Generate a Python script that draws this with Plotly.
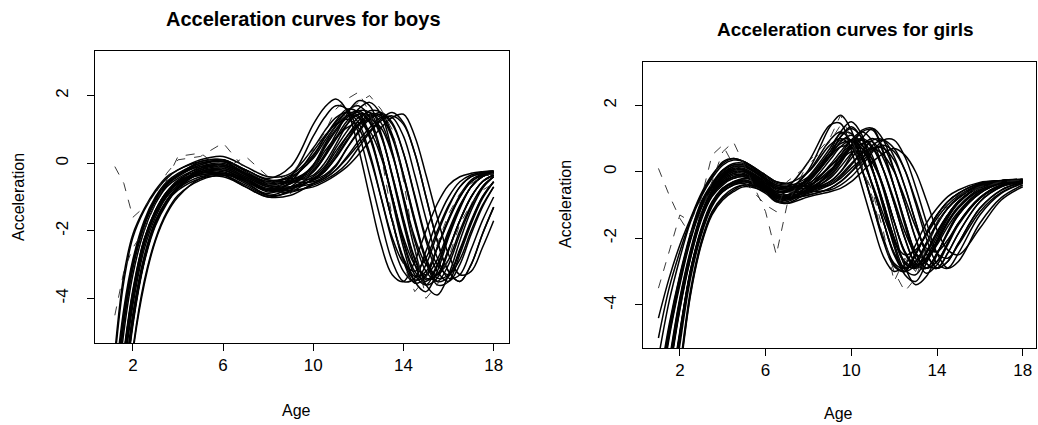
import plotly.graph_objects as go

# ---------------- data ----------------
boy_ages = [1.2, 1.6, 2.0, 2.5, 3.0, 3.5, 4.0, 5.0, 6.0, 7.0, 8.0, 9.0,
            10.0, 10.5, 11.0, 11.5, 12.0, 12.5, 13.0, 13.5, 14.0, 14.5,
            15.0, 15.5, 16.0, 16.5, 17.0, 17.5, 18.0]

boy_01 = [-7.0, -4.6, -3.0, -1.8, -1.1, -0.6, -0.35, 0.05, 0.1, -0.2, -0.45, -0.1, 1.15, 1.65, 1.9, 1.55, 0.45, -1.0, -2.4, -3.3, -3.5, -2.9, -2.0, -1.2, -0.65, -0.4, -0.3, -0.25, -0.22]
boy_02 = [-8.5, -5.8, -3.9, -2.3, -1.45, -0.9, -0.55, -0.3, -0.3, -0.55, -0.8, -0.4, 0.8, 1.35, 1.7, 1.6, 0.9, -0.35, -1.7, -2.9, -3.5, -3.4, -2.6, -1.7, -1.0, -0.55, -0.35, -0.27, -0.23]
boy_03 = [-5.6, -3.3, -2.1, -1.35, -0.8, -0.4, -0.2, 0.1, 0.2, -0.1, -0.4, -0.3, 0.45, 0.95, 1.35, 1.5, 1.2, 0.3, -1.0, -2.3, -3.2, -3.5, -3.0, -2.1, -1.3, -0.7, -0.4, -0.3, -0.25]
boy_04 = [-8.3, -5.7, -3.8, -2.25, -1.4, -0.85, -0.55, -0.35, -0.3, -0.6, -0.9, -0.55, 0.35, 0.8, 1.15, 1.3, 1.05, 0.2, -1.0, -2.2, -2.95, -3.2, -2.8, -2.0, -1.25, -0.7, -0.4, -0.3, -0.25]
boy_05 = [-10.0, -7.0, -4.7, -2.9, -1.8, -1.15, -0.75, -0.2, -0.05, -0.35, -0.65, -0.45, 0.2, 0.75, 1.25, 1.6, 1.5, 0.85, -0.35, -1.7, -2.85, -3.45, -3.3, -2.5, -1.65, -1.0, -0.55, -0.35, -0.27]
boy_06 = [-7.2, -4.7, -3.1, -1.85, -1.1, -0.65, -0.4, -0.05, 0.1, -0.25, -0.55, -0.4, 0.15, 0.65, 1.1, 1.4, 1.35, 0.75, -0.4, -1.7, -2.8, -3.35, -3.2, -2.5, -1.7, -1.0, -0.55, -0.35, -0.27]
boy_07 = [-8.6, -5.9, -3.95, -2.35, -1.45, -0.9, -0.6, -0.3, -0.25, -0.55, -0.95, -0.7, -0.05, 0.55, 1.1, 1.55, 1.7, 1.35, 0.35, -1.1, -2.5, -3.5, -3.8, -3.2, -2.2, -1.35, -0.7, -0.4, -0.3]
boy_08 = [-9.8, -6.8, -4.6, -2.85, -1.75, -1.1, -0.7, -0.15, -0.05, -0.3, -0.6, -0.5, -0.1, 0.45, 0.95, 1.35, 1.5, 1.2, 0.3, -1.0, -2.3, -3.2, -3.5, -3.0, -2.1, -1.3, -0.7, -0.4, -0.3]
boy_09 = [-6.8, -4.5, -2.95, -1.8, -1.05, -0.6, -0.35, 0.0, 0.05, -0.3, -0.55, -0.5, -0.15, 0.35, 0.75, 1.05, 1.2, 0.95, 0.2, -1.0, -2.2, -3.0, -3.3, -2.85, -2.0, -1.25, -0.7, -0.4, -0.3]
boy_10 = [-8.4, -5.7, -3.85, -2.3, -1.4, -0.85, -0.6, -0.35, -0.35, -0.7, -1.0, -0.8, -0.25, 0.18, 0.7, 1.15, 1.45, 1.4, 0.8, -0.35, -1.65, -2.8, -3.4, -3.3, -2.55, -1.7, -1.0, -0.55, -0.35]
boy_11 = [-11.5, -8.2, -5.6, -3.6, -2.3, -1.5, -1.0, -0.45, -0.3, -0.45, -0.75, -0.6, -0.25, 0.2, 0.75, 1.25, 1.55, 1.5, 0.85, -0.35, -1.7, -2.85, -3.45, -3.3, -2.55, -1.7, -1.0, -0.55, -0.35]
boy_12 = [-8.7, -6.0, -4.0, -2.4, -1.5, -0.95, -0.55, -0.1, 0.0, -0.3, -0.6, -0.55, -0.35, 0.0, 0.55, 1.15, 1.6, 1.8, 1.45, 0.35, -1.1, -2.55, -3.6, -3.9, -3.3, -2.3, -1.4, -0.75, -0.4]
boy_13 = [-10.2, -7.1, -4.8, -2.95, -1.85, -1.2, -0.75, -0.3, -0.2, -0.5, -0.85, -0.7, -0.4, -0.1, 0.45, 0.95, 1.35, 1.5, 1.2, 0.3, -1.0, -2.3, -3.2, -3.5, -3.0, -2.1, -1.3, -0.7, -0.4]
boy_14 = [-7.1, -4.7, -3.05, -1.85, -1.1, -0.65, -0.35, -0.05, 0.05, -0.2, -0.5, -0.45, -0.45, -0.15, 0.35, 0.8, 1.15, 1.3, 1.05, 0.25, -1.0, -2.2, -3.0, -3.3, -2.85, -2.0, -1.25, -0.7, -0.4]
boy_15 = [-8.5, -5.8, -3.9, -2.3, -1.45, -0.9, -0.55, -0.25, -0.15, -0.45, -0.8, -0.75, -0.48, -0.25, 0.18, 0.7, 1.15, 1.45, 1.4, 0.8, -0.35, -1.65, -2.8, -3.4, -3.3, -2.55, -1.7, -1.0, -0.55]
boy_16 = [-9.9, -6.9, -4.65, -2.85, -1.8, -1.15, -0.75, -0.4, -0.35, -0.65, -0.95, -0.85, -0.45, -0.2, 0.25, 0.8, 1.25, 1.55, 1.5, 0.85, -0.35, -1.7, -2.85, -3.5, -3.35, -2.6, -1.75, -1.0, -0.55]
boy_17 = [-5.8, -3.5, -2.2, -1.4, -0.85, -0.45, -0.2, 0.05, 0.1, -0.2, -0.5, -0.55, -0.55, -0.4, -0.1, 0.45, 0.95, 1.35, 1.5, 1.2, 0.3, -1.0, -2.3, -3.2, -3.5, -3.0, -2.1, -1.3, -0.7]
boy_18 = [-8.2, -5.6, -3.75, -2.25, -1.4, -0.85, -0.5, -0.2, -0.1, -0.4, -0.7, -0.75, -0.5, -0.35, -0.05, 0.45, 0.9, 1.3, 1.45, 1.15, 0.3, -0.95, -2.2, -3.0, -3.3, -2.85, -2.0, -1.25, -0.7]
boy_19 = [-10.0, -7.0, -4.7, -2.9, -1.8, -1.15, -0.8, -0.45, -0.4, -0.7, -1.0, -0.95, -0.6, -0.45, -0.2, 0.2, 0.65, 1.05, 1.35, 1.35, 0.8, -0.35, -1.65, -2.8, -3.4, -3.3, -2.55, -1.7, -1.0]
boy_20 = [-7.0, -4.6, -3.0, -1.8, -1.1, -0.6, -0.35, -0.1, -0.05, -0.35, -0.65, -0.7, -0.6, -0.45, -0.2, 0.15, 0.55, 0.95, 1.3, 1.5, 1.2, 0.3, -1.0, -2.3, -3.2, -3.5, -3.0, -2.1, -1.3]
boy_21 = [-11.2, -8.0, -5.5, -3.5, -2.25, -1.45, -0.95, -0.5, -0.35, -0.5, -0.8, -0.85, -0.65, -0.5, -0.3, 0.0, 0.45, 0.9, 1.25, 1.4, 1.15, 0.3, -1.0, -2.3, -3.2, -3.5, -3.0, -2.1, -1.3]
boy_22 = [-8.8, -6.0, -4.0, -2.4, -1.5, -0.95, -0.6, -0.25, -0.2, -0.5, -0.8, -0.8, -0.7, -0.55, -0.35, -0.1, 0.25, 0.65, 1.05, 1.35, 1.45, 0.8, -0.35, -1.6, -2.7, -3.3, -3.2, -2.5, -1.7]
boy_23 = [-7.5, -5.0, -3.3, -2.0, -1.2, -0.7, -0.45, -0.15, -0.1, -0.4, -0.7, -0.55, -0.2, 0.25, 0.85, 1.45, 1.85, 1.7, 0.9, -0.4, -1.8, -3.0, -3.6, -3.4, -2.6, -1.7, -1.0, -0.55, -0.35]
boy_24 = [-9.0, -6.2, -4.2, -2.55, -1.6, -1.0, -0.65, -0.25, -0.15, -0.45, -0.8, -0.6, -0.05, 0.5, 1.0, 1.4, 1.55, 1.25, 0.3, -1.0, -2.35, -3.3, -3.6, -3.05, -2.1, -1.3, -0.7, -0.4, -0.3]
boy_25 = [-9.5, -6.6, -4.45, -2.75, -1.7, -1.1, -0.7, -0.3, -0.2, -0.5, -0.8, -0.7, -0.5, -0.25, 0.15, 0.65, 1.1, 1.4, 1.35, 0.75, -0.4, -1.75, -2.9, -3.6, -3.5, -2.7, -1.8, -1.05, -0.55]
boy_26 = [-6.5, -4.3, -2.85, -1.7, -1.0, -0.55, -0.3, 0.0, 0.05, -0.3, -0.55, -0.35, 0.25, 0.75, 1.2, 1.5, 1.4, 0.8, -0.35, -1.7, -2.9, -3.55, -3.35, -2.5, -1.65, -0.95, -0.5, -0.32, -0.25]
boy_noisy_a = [-0.1, -0.6, -1.6, -1.3, -0.9, -0.3, 0.1, 0.2, 0.6, -0.2, -0.6, -0.3, 0.4, 0.9, 1.6, 1.9, 2.1, 1.5, 0.3, -1.6, -3.0, -3.8, -3.4, -2.4, -1.5, -0.9, -0.6, -0.4, -0.3]
boy_noisy_b = [-4.5, -3.2, -2.5, -2.0, -1.2, -0.5, 0.2, 0.3, -0.2, 0.2, -0.4, -0.9, -0.2, 0.6, 1.1, 1.5, 1.8, 2.0, 1.6, 1.0, -0.5, -2.5, -4.0, -3.6, -2.8, -1.8, -1.2, -0.8, -0.6]

boys_smooth = [boy_01, boy_02, boy_03, boy_04, boy_05, boy_06, boy_07, boy_08,
               boy_09, boy_10, boy_11, boy_12, boy_13, boy_14, boy_15, boy_16,
               boy_17, boy_18, boy_19, boy_20, boy_21, boy_22, boy_23, boy_24,
               boy_25, boy_26]
boys_noisy = [boy_noisy_a, boy_noisy_b]

girl_ages = [1.0, 1.5, 2.0, 2.5, 3.0, 3.5, 4.0, 4.5, 5.0, 6.0, 6.5, 7.0, 8.0,
             9.0, 9.5, 10.0, 10.5, 11.0, 11.5, 12.0, 12.5, 13.0, 13.5, 14.0,
             14.5, 15.0, 16.0, 17.0, 18.0]

girl_01 = [-6.8, -4.8, -3.2, -1.95, -1.0, -0.4, -0.05, 0.15, 0.15, -0.25, -0.45, -0.45, 0.3, 1.4, 1.45, 0.65, -0.45, -1.55, -2.55, -3.0, -2.8, -2.2, -1.55, -1.1, -0.75, -0.55, -0.32, -0.26, -0.22]
girl_02 = [-8.5, -6.0, -4.0, -2.5, -1.35, -0.65, -0.25, -0.05, 0.0, -0.45, -0.7, -0.6, 0.05, 1.35, 1.7, 1.25, 0.1, -1.0, -2.1, -2.85, -3.0, -2.5, -1.85, -1.3, -0.9, -0.65, -0.35, -0.27, -0.23]
girl_03 = [-5.0, -3.5, -2.4, -1.45, -0.7, -0.15, 0.3, 0.4, 0.3, -0.1, -0.3, -0.35, 0.0, 0.8, 1.0, 0.75, 0.05, -0.95, -2.0, -2.75, -2.9, -2.45, -1.85, -1.3, -0.9, -0.65, -0.35, -0.27, -0.23]
girl_04 = [-10.0, -7.2, -4.9, -3.0, -1.75, -0.95, -0.6, -0.4, -0.35, -0.65, -0.9, -0.8, -0.15, 0.7, 1.15, 1.15, 0.55, -0.45, -1.5, -2.45, -2.9, -2.7, -2.15, -1.55, -1.1, -0.78, -0.4, -0.28, -0.24]
girl_05 = [-8.3, -5.9, -3.9, -2.45, -1.3, -0.6, -0.1, 0.1, 0.05, -0.3, -0.5, -0.45, -0.15, 0.6, 0.95, 0.95, 0.45, -0.45, -1.5, -2.45, -2.9, -2.7, -2.15, -1.55, -1.1, -0.78, -0.4, -0.28, -0.24]
girl_06 = [-7.0, -4.9, -3.3, -2.0, -1.05, -0.45, -0.2, 0.0, 0.0, -0.45, -0.7, -0.75, -0.3, 0.45, 0.75, 0.75, 0.35, -0.4, -1.3, -2.1, -2.5, -2.35, -1.9, -1.4, -1.0, -0.72, -0.38, -0.27, -0.24]
girl_07 = [-8.6, -6.1, -4.05, -2.55, -1.4, -0.7, -0.3, -0.15, -0.1, -0.5, -0.75, -0.7, -0.3, 0.5, 1.05, 1.3, 1.0, 0.05, -1.1, -2.25, -3.1, -3.3, -2.75, -2.05, -1.4, -0.95, -0.45, -0.3, -0.25]
girl_08 = [-10.2, -7.3, -5.0, -3.05, -1.8, -1.0, -0.55, -0.3, -0.2, -0.35, -0.5, -0.55, -0.2, 0.5, 1.05, 1.35, 1.0, 0.05, -0.95, -2.0, -2.75, -2.9, -2.45, -1.85, -1.3, -0.9, -0.45, -0.3, -0.25]
girl_09 = [-6.6, -4.7, -3.15, -1.9, -0.95, -0.4, 0.05, 0.25, 0.25, -0.15, -0.35, -0.4, -0.25, 0.45, 0.9, 1.1, 0.8, 0.05, -0.95, -2.0, -2.75, -2.9, -2.45, -1.85, -1.3, -0.9, -0.45, -0.3, -0.25]
girl_10 = [-12.0, -8.8, -6.1, -3.7, -2.2, -1.3, -0.85, -0.6, -0.45, -0.6, -0.8, -0.85, -0.4, 0.35, 0.75, 0.95, 0.7, 0.0, -1.0, -2.0, -2.7, -2.85, -2.4, -1.8, -1.3, -0.9, -0.45, -0.3, -0.25]
girl_11 = [-8.5, -6.0, -4.0, -2.5, -1.35, -0.65, -0.15, 0.05, 0.05, -0.4, -0.65, -0.7, -0.45, 0.15, 0.45, 0.7, 0.7, 0.35, -0.45, -1.5, -2.45, -2.9, -2.7, -2.15, -1.55, -1.1, -0.55, -0.32, -0.26]
girl_12 = [-5.6, -3.9, -2.6, -1.5, -0.75, -0.2, 0.2, 0.35, 0.3, -0.2, -0.45, -0.5, -0.35, 0.15, 0.5, 0.8, 0.8, 0.35, -0.45, -1.5, -2.4, -2.8, -2.6, -2.1, -1.5, -1.05, -0.55, -0.32, -0.26]
girl_13 = [-9.8, -7.0, -4.8, -2.95, -1.7, -0.9, -0.5, -0.3, -0.25, -0.55, -0.85, -0.9, -0.5, 0.2, 0.6, 0.95, 0.95, 0.45, -0.55, -1.75, -2.85, -3.4, -3.15, -2.5, -1.8, -1.25, -0.6, -0.33, -0.26]
girl_14 = [-8.4, -5.9, -3.95, -2.45, -1.3, -0.6, -0.25, -0.05, -0.05, -0.45, -0.7, -0.8, -0.55, 0.0, 0.5, 0.95, 1.2, 0.9, 0.05, -0.95, -2.0, -2.75, -2.9, -2.45, -1.85, -1.3, -0.65, -0.35, -0.27]
girl_15 = [-6.9, -4.85, -3.25, -1.95, -1.0, -0.4, -0.05, 0.15, 0.15, -0.2, -0.4, -0.45, -0.4, 0.0, 0.4, 0.8, 1.0, 0.75, 0.05, -0.95, -2.0, -2.75, -2.9, -2.45, -1.85, -1.3, -0.65, -0.35, -0.27]
girl_16 = [-10.0, -7.2, -4.9, -3.0, -1.75, -0.95, -0.5, -0.35, -0.3, -0.6, -0.9, -0.95, -0.6, -0.05, 0.35, 0.75, 0.95, 0.7, 0.05, -0.85, -1.8, -2.45, -2.6, -2.2, -1.65, -1.2, -0.6, -0.35, -0.27]
girl_17 = [-8.7, -6.1, -4.1, -2.55, -1.4, -0.7, -0.35, -0.2, -0.15, -0.5, -0.75, -0.75, -0.6, -0.15, 0.25, 0.75, 1.2, 1.25, 0.55, -0.45, -1.5, -2.45, -2.9, -2.7, -2.15, -1.55, -0.78, -0.4, -0.28]
girl_18 = [-11.8, -8.6, -6.0, -3.65, -2.15, -1.25, -0.8, -0.55, -0.4, -0.5, -0.7, -0.75, -0.55, -0.2, 0.15, 0.55, 0.85, 0.9, 0.4, -0.45, -1.5, -2.45, -2.9, -2.7, -2.15, -1.55, -0.78, -0.4, -0.28]
girl_19 = [-6.7, -4.75, -3.2, -1.9, -0.95, -0.4, 0.0, 0.2, 0.2, -0.2, -0.4, -0.45, -0.5, -0.3, 0.0, 0.5, 1.0, 1.3, 0.95, 0.05, -0.95, -2.0, -2.75, -2.9, -2.45, -1.85, -0.9, -0.45, -0.3]
girl_20 = [-8.5, -6.0, -4.0, -2.5, -1.35, -0.65, -0.3, -0.1, -0.1, -0.45, -0.65, -0.7, -0.6, -0.35, -0.1, 0.25, 0.55, 0.7, 0.5, 0.0, -0.8, -1.65, -2.3, -2.4, -2.05, -1.55, -0.8, -0.42, -0.3]
girl_21 = [-10.1, -7.2, -4.95, -3.0, -1.8, -1.0, -0.55, -0.35, -0.3, -0.55, -0.8, -0.85, -0.65, -0.4, -0.2, 0.1, 0.4, 0.7, 0.7, 0.35, -0.45, -1.5, -2.45, -2.9, -2.7, -2.15, -1.1, -0.55, -0.32]
girl_22 = [-4.4, -3.2, -2.2, -1.4, -0.65, -0.1, 0.25, 0.4, 0.3, -0.1, -0.3, -0.35, -0.45, -0.4, -0.15, 0.2, 0.6, 0.95, 0.95, 0.45, -0.45, -1.5, -2.45, -2.9, -2.7, -2.15, -1.1, -0.55, -0.32]
girl_23 = [-8.6, -6.05, -4.05, -2.5, -1.4, -0.7, -0.35, -0.15, -0.1, -0.5, -0.75, -0.8, -0.7, -0.5, -0.3, 0.0, 0.3, 0.65, 0.8, 0.6, 0.05, -0.95, -2.0, -2.75, -2.9, -2.45, -1.3, -0.65, -0.35]
girl_24 = [-9.9, -7.1, -4.85, -2.95, -1.75, -0.95, -0.5, -0.35, -0.25, -0.5, -0.75, -0.8, -0.7, -0.5, -0.3, 0.0, 0.4, 0.8, 0.95, 0.7, 0.05, -0.85, -1.8, -2.45, -2.6, -2.2, -1.2, -0.62, -0.35]
girl_25 = [-7.0, -4.9, -3.3, -2.0, -1.05, -0.45, -0.1, 0.1, 0.1, -0.3, -0.55, -0.6, -0.6, -0.55, -0.4, -0.15, 0.2, 0.6, 0.95, 0.95, 0.45, -0.45, -1.5, -2.45, -2.9, -2.7, -1.55, -0.78, -0.4]
girl_26 = [-8.8, -6.2, -4.15, -2.6, -1.45, -0.75, -0.4, -0.2, -0.15, -0.55, -0.85, -0.95, -0.75, -0.6, -0.5, -0.3, 0.0, 0.3, 0.55, 0.7, 0.5, 0.0, -0.85, -1.75, -2.35, -2.5, -1.7, -0.85, -0.45]
girl_27 = [-8.0, -5.7, -3.8, -2.35, -1.25, -0.55, -0.15, 0.05, 0.05, -0.35, -0.6, -0.6, -0.25, 0.6, 1.2, 1.5, 1.1, 0.05, -1.05, -2.15, -2.95, -3.1, -2.6, -1.95, -1.35, -0.9, -0.45, -0.3, -0.25]
girl_28 = [-6.5, -4.6, -3.1, -1.85, -0.9, -0.35, 0.05, 0.2, 0.2, -0.25, -0.5, -0.55, -0.45, 0.05, 0.35, 0.6, 0.6, 0.25, -0.5, -1.5, -2.4, -2.85, -2.65, -2.1, -1.5, -1.05, -0.5, -0.3, -0.25]
girl_29 = [-10.5, -7.5, -5.2, -3.2, -1.9, -1.05, -0.6, -0.4, -0.3, -0.5, -0.75, -0.8, -0.5, -0.1, 0.3, 0.8, 1.25, 1.3, 0.6, -0.45, -1.6, -2.6, -3.05, -2.8, -2.2, -1.6, -0.8, -0.4, -0.28]
girl_30 = [-8.2, -5.8, -3.85, -2.4, -1.3, -0.6, -0.2, 0.0, 0.0, -0.4, -0.6, -0.6, -0.2, 0.5, 0.85, 0.9, 0.4, -0.45, -1.5, -2.5, -3.0, -2.8, -2.2, -1.6, -1.1, -0.8, -0.4, -0.28, -0.24]
girl_31 = [-11.5, -8.4, -5.9, -3.55, -2.1, -1.2, -0.75, -0.5, -0.4, -0.55, -0.75, -0.8, -0.6, -0.3, 0.0, 0.4, 0.8, 1.0, 0.75, 0.05, -0.95, -2.0, -2.75, -2.9, -2.45, -1.85, -0.9, -0.45, -0.3]
girl_32 = [-7.2, -5.0, -3.4, -2.05, -1.1, -0.5, -0.15, 0.05, 0.05, -0.35, -0.6, -0.55, 0.0, 0.95, 1.2, 0.9, 0.05, -1.0, -2.05, -2.8, -3.0, -2.5, -1.85, -1.3, -0.9, -0.65, -0.35, -0.27, -0.23]
girl_noisy_a = [0.1, -0.7, -1.4, -1.9, -1.2, -0.3, 0.6, 0.9, 0.2, -1.2, -2.5, -1.0, 0.3, 1.0, 1.7, 1.0, 0.2, -0.8, -2.0, -3.0, -3.6, -3.2, -2.3, -1.6, -1.0, -0.7, -0.45, -0.3, -0.25]
girl_noisy_b = [-3.5, -2.4, -1.3, -1.5, -0.8, 0.5, 0.8, 0.2, -0.3, -1.0, -1.2, -0.3, 0.2, 0.9, 1.4, 0.9, 0.1, -0.6, -1.8, -3.3, -2.6, -3.0, -2.2, -1.5, -0.9, -0.7, -0.5, -0.3, -0.25]

girls_smooth = [girl_01, girl_02, girl_03, girl_04, girl_05, girl_06, girl_07,
                girl_08, girl_09, girl_10, girl_11, girl_12, girl_13, girl_14,
                girl_15, girl_16, girl_17, girl_18, girl_19, girl_20, girl_21,
                girl_22, girl_23, girl_24, girl_25, girl_26, girl_27, girl_28,
                girl_29, girl_30, girl_31, girl_32]
girls_noisy = [girl_noisy_a, girl_noisy_b]

x_ticks = [2, 6, 10, 14, 18]
y_ticks = [-4, -2, 0, 2]
y_tick_text = ["-4", "-2", "0", "2"]

for i, c in enumerate(boys_smooth + boys_noisy):
    assert len(c) == len(boy_ages), ("boy", i, len(c))
for i, c in enumerate(girls_smooth + girls_noisy):
    assert len(c) == len(girl_ages), ("girl", i, len(c))

# ---------------- figure ----------------
W, H = 1038, 425
FONT = "Liberation Sans, Arial, Helvetica, sans-serif"

fig = go.Figure()

def add_curves(ages, smooth, noisy, xa, ya):
    for c in smooth:
        fig.add_trace(go.Scatter(x=ages, y=c, mode="lines", xaxis=xa, yaxis=ya,
                                 line=dict(color="black", width=1.5, shape="spline", smoothing=1.0),
                                 hoverinfo="skip"))
    for c in noisy:
        fig.add_trace(go.Scatter(x=ages, y=c, mode="lines", xaxis=xa, yaxis=ya,
                                 line=dict(color="#222222", width=0.9, dash="dash"),
                                 hoverinfo="skip"))

add_curves(boy_ages, boys_smooth, boys_noisy, "x", "y")
add_curves(girl_ages, girls_smooth, girls_noisy, "x2", "y2")

def px_x(p):
    return p / W

def px_y(p):
    return 1 - p / H

axis_common = dict(showgrid=False, zeroline=False, showline=True, mirror=True,
                   linecolor="black", linewidth=1, ticks="outside", ticklen=7,
                   tickwidth=1, tickcolor="black",
                   tickfont=dict(family=FONT, size=17, color="black"))

fig.update_layout(
    width=W, height=H, margin=dict(l=0, r=0, t=0, b=0),
    paper_bgcolor="white", plot_bgcolor="white", showlegend=False,
    xaxis=dict(domain=[px_x(95), px_x(509)], range=[0.32, 18.68], tickvals=x_ticks,
               anchor="y", **axis_common),
    yaxis=dict(domain=[px_y(343), px_y(51)], range=[-5.32, 3.32], tickvals=y_ticks,
               ticktext=y_tick_text, tickangle=-90, anchor="x", ticklabelstandoff=12,
               **axis_common),
    xaxis2=dict(domain=[px_x(643), px_x(1036)], range=[0.28, 18.62], tickvals=x_ticks,
                anchor="y2", **axis_common),
    yaxis2=dict(domain=[px_y(348), px_y(62)], range=[-5.3, 3.3], tickvals=y_ticks,
                ticktext=y_tick_text, tickangle=-90, anchor="x2", ticklabelstandoff=12,
                **axis_common),
)

ann = []
def label(text, x, y, size=16, bold=False, angle=0):
    t = "<b>%s</b>" % text if bold else text
    ann.append(dict(text=t, x=px_x(x), y=px_y(y), xref="paper", yref="paper",
                    showarrow=False, textangle=angle, xanchor="center", yanchor="middle",
                    font=dict(family=FONT, size=size, color="black")))

label("Acceleration curves for boys", 303, 19, size=20, bold=True)
label("Acceleration curves for girls", 845, 29, size=19, bold=True)
label("Age", 296, 410)
label("Age", 838, 413)
label("Acceleration", 18, 197, angle=-90)
label("Acceleration", 565, 204, angle=-90)
fig.update_layout(annotations=ann)

fig.write_html("out.html")
